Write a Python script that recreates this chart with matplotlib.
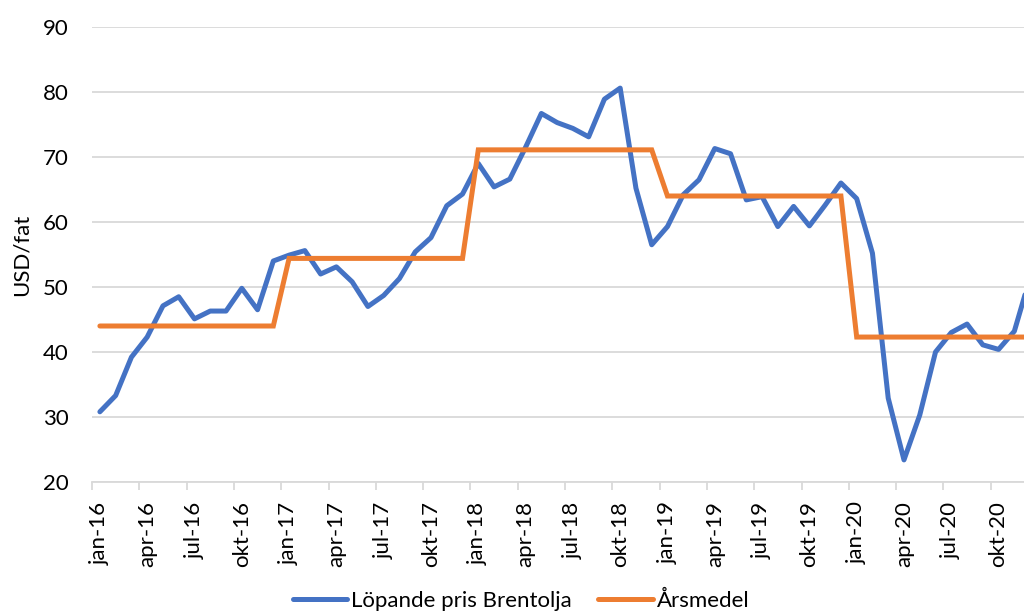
import numpy as np
import matplotlib
matplotlib.use("Agg")
import matplotlib.pyplot as plt
from matplotlib.ticker import FixedLocator

# --- data ---
manader = ["jan", "feb", "mar", "apr", "maj", "jun", "jul", "aug", "sep", "okt", "nov", "dec"]
ar = ["16", "17", "18", "19", "20"]
manads_etiketter = [f"{m}-{a}" for a in ar for m in manader]

lopande_pris = [
    30.8, 33.3, 39.2, 42.3, 47.1, 48.5, 45.1, 46.3, 46.3, 49.8, 46.5, 54.0,
    54.9, 55.6, 52.0, 53.1, 50.8, 47.0, 48.7, 51.3, 55.4, 57.6, 62.5, 64.3,
    69.0, 65.4, 66.6, 71.5, 76.7, 75.3, 74.4, 73.1, 78.9, 80.6, 65.2, 56.5,
    59.3, 64.2, 66.5, 71.3, 70.5, 63.4, 63.9, 59.3, 62.4, 59.4, 62.6, 66.0,
    63.6, 55.2, 32.9, 23.4, 30.3, 40.0, 43.0, 44.3, 41.1, 40.4, 43.2, 51.5,
]
arsmedel_per_ar = [44.0, 54.4, 71.1, 64.0, 42.3]
arsmedel = list(np.repeat(arsmedel_per_ar, 12))

y_ticks = [20, 30, 40, 50, 60, 70, 80, 90]

# --- plot ---
plt.rcParams['font.family'] = ['Lato', 'DejaVu Sans']
W, H = 1024, 612
fig = plt.figure(figsize=(W / 100, H / 100), dpi=100)

left_px, right_px = 92, 1038
bottom_px, top_px = 482, 27
ax = fig.add_axes([left_px / W, (H - bottom_px) / H,
                   (right_px - left_px) / W, (bottom_px - top_px) / H])

x = np.arange(len(lopande_pris))
blue = "#4472C4"
orange = "#ED7D31"
grid = "#D9D9D9"
fs = 16

l1, = ax.plot(x, lopande_pris, color=blue, lw=3.6, solid_joinstyle="round",
              solid_capstyle="round", label="Löpande pris Brentolja", zorder=3)
l2, = ax.plot(x, arsmedel, color=orange, lw=3.6, solid_joinstyle="miter",
              solid_capstyle="round", label="Årsmedel", zorder=3)

ax.set_xlim(-0.5, len(x) - 0.5)
ax.set_ylim(20, 90)
ax.set_yticks(y_ticks)
ax.yaxis.grid(True, color=grid, lw=1.3)
ax.set_axisbelow(True)

lab_pos = x[::3]
ax.set_xticks(lab_pos)
ax.set_xticklabels([manads_etiketter[i] for i in lab_pos], rotation=90, fontsize=fs)
ax.xaxis.set_minor_locator(FixedLocator(np.arange(-0.5, len(x), 3)))
ax.tick_params(axis="x", which="major", length=0, pad=14, colors="black")
ax.tick_params(axis="x", which="minor", length=6, width=1.3, color=grid)
ax.tick_params(axis="y", length=0, pad=17, labelsize=fs)

for s in ["top", "right", "left"]:
    ax.spines[s].set_visible(False)
ax.spines["bottom"].set_color(grid)
ax.spines["bottom"].set_linewidth(1.3)

ax.set_ylabel("USD/fat", fontsize=fs, labelpad=8)

fig.legend(handles=[l1, l2], loc="center", bbox_to_anchor=(521 / W, 1 - 601 / H),
           ncol=2, frameon=False, fontsize=fs, handlelength=2.45,
           handletextpad=0.18, columnspacing=1.17)

fig.savefig("out.png", dpi=100)
